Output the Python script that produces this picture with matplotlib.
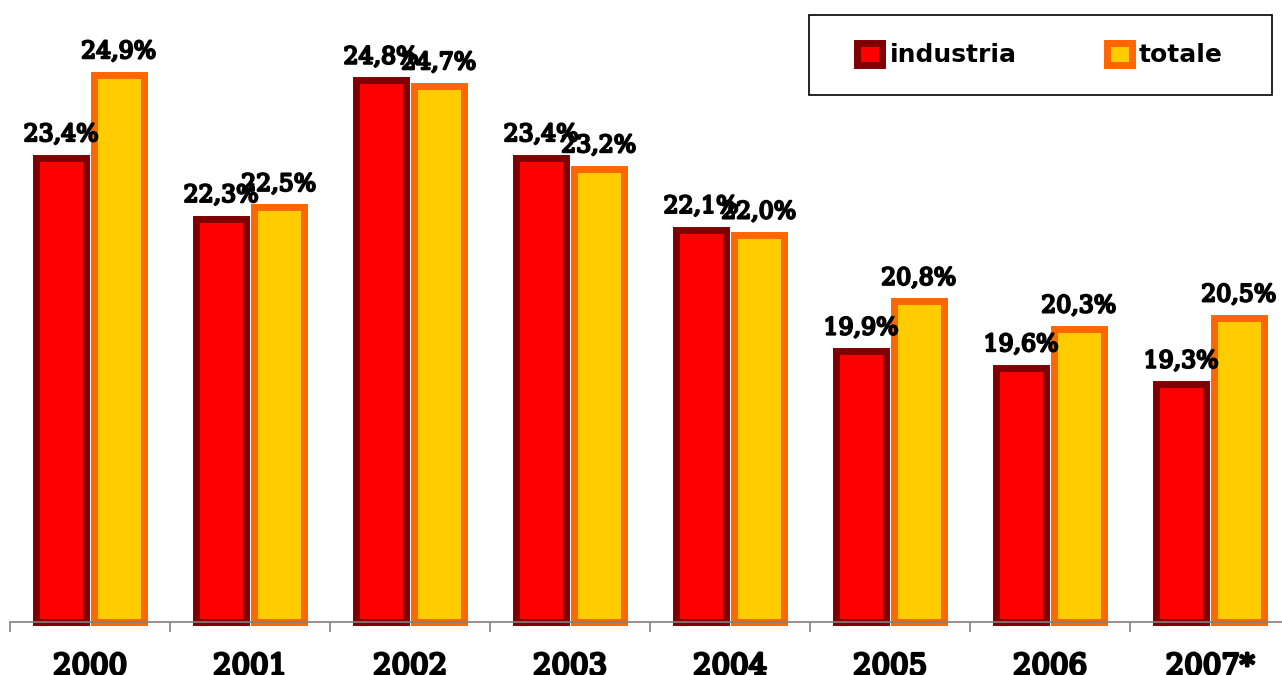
import matplotlib
matplotlib.use("Agg")
import matplotlib.pyplot as plt
import matplotlib.patheffects as pe
import numpy as np
from matplotlib.patches import Rectangle

years = ["2000", "2001", "2002", "2003", "2004", "2005", "2006", "2007*"]
industria = [23.4, 22.3, 24.8, 23.4, 22.1, 19.9, 19.6, 19.3]
totale = [24.9, 22.5, 24.7, 23.2, 22.0, 20.8, 20.3, 20.5]
series_names = ["industria", "totale"]

heavy = [pe.withStroke(linewidth=1.6, foreground="black")]

fig = plt.figure(figsize=(12.82, 6.75), dpi=100)
ax = fig.add_axes([10/1282, 53/675, 1272/1282, 608/675])

x = np.arange(len(years))
off = 0.18
w = 0.315
b1 = ax.bar(x - off, [v - 15 for v in industria], bottom=15, width=w,
            color="#FF0000", edgecolor="#800000", linewidth=5,
            label=series_names[0], clip_on=False)
b2 = ax.bar(x + off, [v - 15 for v in totale], bottom=15, width=w,
            color="#FFCC00", edgecolor="#FF6600", linewidth=5,
            label=series_names[1], clip_on=False)

for xs, vals in ((x - off, industria), (x + off, totale)):
    for xi, v in zip(xs, vals):
        ax.annotate(f"{v:.1f}%".replace(".", ","), (xi, v),
                    xytext=(0, 12), textcoords="offset points",
                    ha="center", va="baseline", family="DejaVu Serif",
                    fontsize=17, path_effects=heavy)

ax.set_ylim(15, 26)
ax.set_xlim(-0.5, 7.45)
for s in ["top", "right", "left"]:
    ax.spines[s].set_visible(False)
ax.spines["bottom"].set_color("#808080")
ax.spines["bottom"].set_linewidth(1.2)
ax.set_yticks([])
ax.set_xticks(x)
ax.set_xticklabels(years, family="DejaVu Serif", fontsize=21)
for t in ax.get_xticklabels():
    t.set_path_effects([pe.withStroke(linewidth=2.0, foreground="black")])
ax.tick_params(axis="x", which="major", length=0, pad=22)
ax.set_xticks(np.arange(-0.5, 7, 1.0), minor=True)
ax.tick_params(axis="x", which="minor", length=7, color="#808080", width=1.2, direction="out")

leg = fig.legend(handles=[b1, b2], labels=series_names, ncol=2,
                 loc="center", bbox_to_anchor=(1040/1282, 1 - 55/675),
                 frameon=False, prop={"family": "DejaVu Sans", "weight": "bold", "size": 18},
                 handlelength=1.0, handleheight=1.0, handletextpad=0.3,
                 columnspacing=3.6, borderpad=0.3)
fig.patches.append(Rectangle((809/1282, 1 - 95/675), 463/1282, 80/675,
                             transform=fig.transFigure, fill=False,
                             edgecolor="black", linewidth=1.2))

fig.savefig("out.png", dpi=100)
